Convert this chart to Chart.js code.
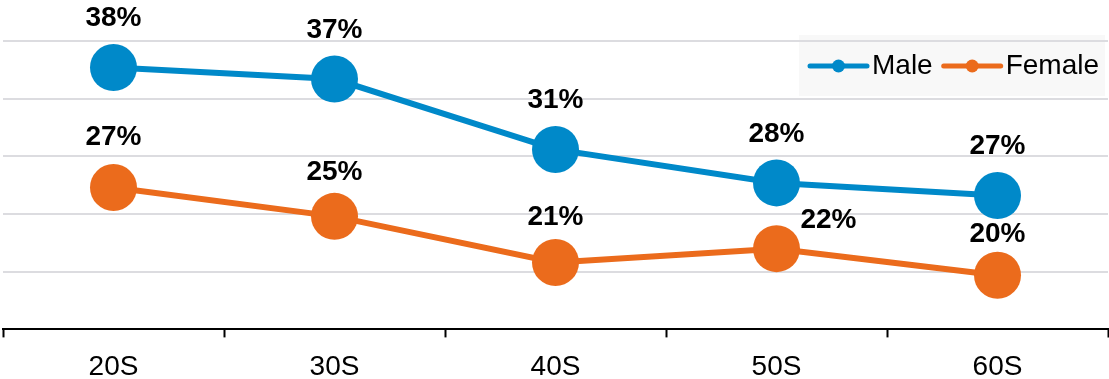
<!DOCTYPE html>
<html>
<head>
<meta charset="utf-8">
<style>
  html, body { margin: 0; padding: 0; background: #fff; }
  #wrap { width: 1109px; height: 379px; position: relative; }
</style>
<script src="https://cdn.jsdelivr.net/npm/chart.js@4"></script>
</head>
<body>
<div id="wrap"><canvas id="myChart"></canvas></div>
<script>
const ageGroups = ['20S', '30S', '40S', '50S', '60S']
const seriesNames = ['Male', 'Female']
const male = [37.7, 36.7, 30.6, 27.7, 26.6]
const female = [27.3, 24.8, 20.8, 22.0, 19.7]

const BLUE = 'rgb(0, 137, 201)'
const ORANGE = 'rgb(235, 107, 28)'
const FONT = '"Liberation Sans", Arial, sans-serif'

// label nudges [dx, dy] from each point, per series
const labelShift = [
    [[0, -49], [0, -49], [0, -49], [0, -49], [0, -49]],
    [[0, -50], [0, -44], [0, -45], [52, -28], [0, -41]],
]

const valueLabels = {
    id: 'valueLabels',
    afterDatasetsDraw(chart) {
        const ctx = chart.ctx
        ctx.save()
        ctx.font = 'bold 28px ' + FONT
        ctx.fillStyle = '#000'
        ctx.textAlign = 'center'
        ctx.textBaseline = 'middle'
        chart.data.datasets.forEach((ds, i) => {
            chart.getDatasetMeta(i).data.forEach((pt, j) => {
                const [dx, dy] = labelShift[i][j]
                ctx.fillText(Math.round(ds.data[j]) + '%', pt.x + dx, pt.y + dy)
            })
        })
        ctx.restore()
    }
}

// legend box sits behind the gridlines, its entries on top
const boxLegend = {
    id: 'boxLegend',
    beforeDraw(chart) {
        const ctx = chart.ctx
        ctx.save()
        ctx.fillStyle = '#f8f8f8'
        ctx.fillRect(799, 35, 306, 61)
        ctx.restore()
    },
    afterDraw(chart) {
        const ctx = chart.ctx
        ctx.save()
        ctx.font = '28px ' + FONT
        ctx.textBaseline = 'middle'
        let x = 810
        const y = 66
        chart.data.datasets.forEach((ds) => {
            ctx.strokeStyle = ds.borderColor
            ctx.lineWidth = 5
            ctx.lineCap = 'round'
            ctx.beginPath()
            ctx.moveTo(x, y)
            ctx.lineTo(x + 57, y)
            ctx.stroke()
            ctx.fillStyle = ds.borderColor
            ctx.beginPath()
            ctx.arc(x + 28.5, y, 6.5, 0, Math.PI * 2)
            ctx.fill()
            ctx.fillStyle = '#000'
            ctx.fillText(ds.label, x + 62, y)
            x += 62 + ctx.measureText(ds.label).width + 11
        })
        ctx.restore()
    }
}

const ctx = document.getElementById('myChart')
new Chart(ctx, {
    type: 'line',
    data: {
        labels: ageGroups,
        datasets: [
            {
                label: seriesNames[0],
                data: male,
                borderColor: BLUE,
                backgroundColor: BLUE,
                borderWidth: 6,
                pointRadius: 23.5,
                pointHoverRadius: 23.5,
                pointBorderWidth: 0,
            },
            {
                label: seriesNames[1],
                data: female,
                borderColor: ORANGE,
                backgroundColor: ORANGE,
                borderWidth: 6,
                pointRadius: 23.5,
                pointHoverRadius: 23.5,
                pointBorderWidth: 0,
            },
        ],
    },
    options: {
        responsive: true,
        maintainAspectRatio: false,
        animation: false,
        events: [],
        layout: {
            autoPadding: false,
            padding: { left: 3, right: 1, top: 41, bottom: -18 }
        },
        plugins: {
            legend: { display: false },
            tooltip: { enabled: false },
        },
        scales: {
            x: {
                offset: true,
                grid: {
                    offset: true,
                    drawOnChartArea: false,
                    tickLength: 8,
                    tickWidth: 2,
                    tickColor: '#000',
                },
                border: { color: '#000', width: 2 },
                ticks: {
                    color: '#000',
                    padding: 13,
                    font: { family: FONT, size: 28 },
                },
            },
            y: {
                min: 15,
                max: 40,
                ticks: { display: false, stepSize: 5 },
                border: { display: false },
                grid: { color: '#dcdce0', lineWidth: 2, drawTicks: false },
            },
        },
    },
    plugins: [boxLegend, valueLabels],
})
</script>
</body>
</html>
